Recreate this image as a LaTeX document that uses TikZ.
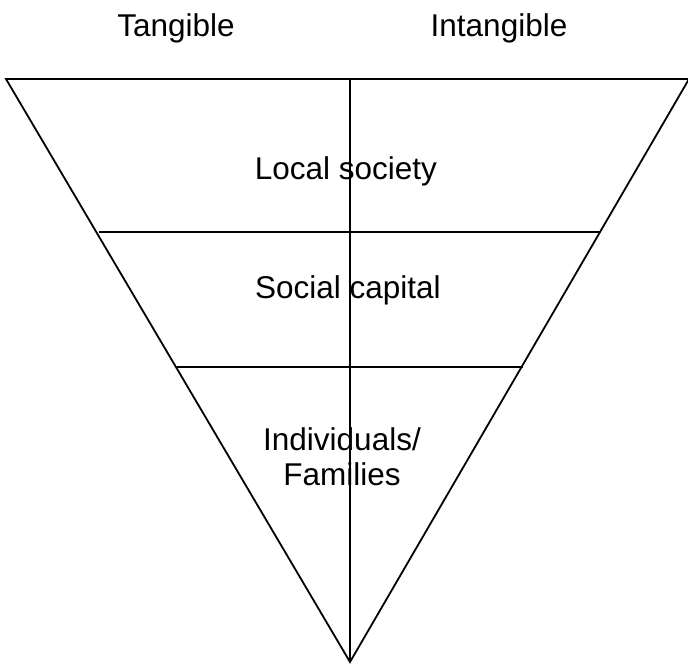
\documentclass[tikz,border=0pt]{standalone}
\usepackage{fontspec}
\setmainfont{Liberation Sans}
\begin{document}
\begin{tikzpicture}[x=1pt,y=-1pt,
  edge/.style={line width=1.8pt,black},
  lbl/.style={font=\fontsize{31.5}{35}\selectfont,inner sep=0pt,align=center}]
\useasboundingbox (0,0) rectangle (688,669);
\coordinate (tl) at (6,79);
\coordinate (tr) at (689,79);
\coordinate (ap) at (350,662);
\coordinate (top) at (350,79);
\coordinate (a1) at (99,232);
\coordinate (b1) at (600,232);
\coordinate (a2) at (177,367);
\coordinate (b2) at (523,367);
\draw[edge,line join=miter] (tl) -- (tr) -- (ap) -- cycle;
\draw[edge] (top) -- (ap);
\draw[edge] (a1) -- (b1);
\draw[edge] (a2) -- (b2);
\node[lbl] (tang) at (176,28) {Tangible};
\node[lbl] (intang) at (499,28) {Intangible};
\node[lbl] (local) at (346,171) {Local society};
\node[lbl] (social) at (348,290) {Social capital};
\node[lbl] (indiv) at (342,457) {Individuals/\\Families};
\end{tikzpicture}
\end{document}
